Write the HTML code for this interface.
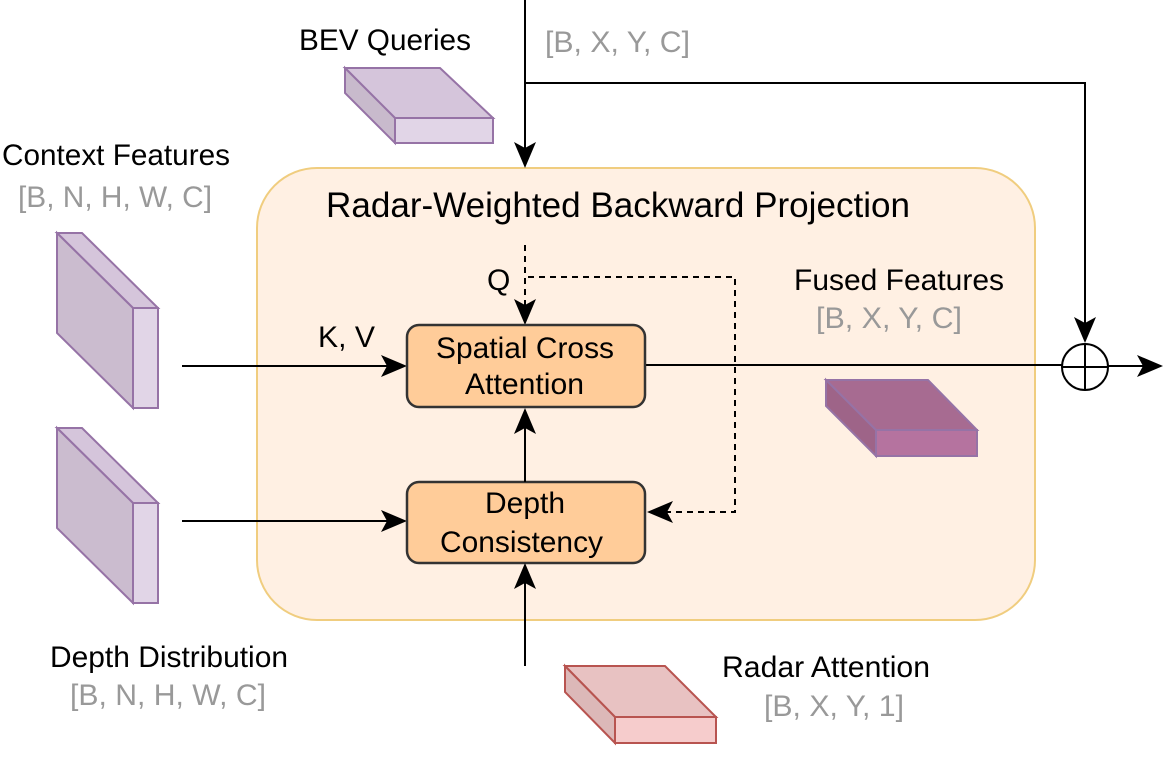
<!DOCTYPE html>
<html><head><meta charset="utf-8"><style>
html,body{margin:0;padding:0;background:#fff;}
svg{display:block;}
text{font-family:"Liberation Sans",Arial,sans-serif;font-size:30px;}
.g{fill:#999;}
</style></head><body>
<svg width="1165" height="762" viewBox="0 0 1165 762" xmlns="http://www.w3.org/2000/svg">
<!-- container -->
<rect x="257" y="168" width="778" height="452" rx="60" fill="#fff0e3" stroke="#f0cd7f" stroke-width="2"/>
<text x="326" y="217" style="font-size:35px" textLength="584" lengthAdjust="spacingAndGlyphs">Radar-Weighted Backward Projection</text>

<!-- top line + branch -->
<line x1="525" y1="0" x2="525" y2="150" stroke="#000" stroke-width="2"/>
<polygon points="525,168 514,142 525,148 536,142" fill="#000"/>
<polyline points="525,83 1085,83 1085,325" fill="none" stroke="#000" stroke-width="2"/>
<polygon points="1085,343 1074,317 1085,323 1096,317" fill="#000"/>
<circle cx="1085" cy="367" r="23" fill="#fff" stroke="#000" stroke-width="2"/>
<line x1="1062" y1="367" x2="1108" y2="367" stroke="#000" stroke-width="2"/>
<line x1="1085" y1="344" x2="1085" y2="390" stroke="#000" stroke-width="2"/>
<line x1="645" y1="365" x2="1062" y2="365" stroke="#000" stroke-width="2"/>
<line x1="1108" y1="366" x2="1150" y2="366" stroke="#000" stroke-width="2"/>
<polygon points="1163,366 1137,355 1143,366 1137,377" fill="#000"/>

<text x="545" y="52" class="g" textLength="145" lengthAdjust="spacingAndGlyphs">[B, X, Y, C]</text>
<text x="299" y="50" textLength="172" lengthAdjust="spacingAndGlyphs">BEV Queries</text>

<!-- BEV box -->
<polygon points="345,68 440,68 493,118 395,118" fill="#d5c5db" stroke="#9673a6" stroke-width="2"/>
<polygon points="345,68 395,118 395,143 345,93" fill="#c8bacc" stroke="#9673a6" stroke-width="2"/>
<rect x="395" y="118" width="98" height="25" fill="#e1d5e7" stroke="#9673a6" stroke-width="2"/>

<!-- Context -->
<text x="2" y="165" textLength="228" lengthAdjust="spacingAndGlyphs">Context Features</text>
<text x="18" y="207" class="g" textLength="194" lengthAdjust="spacingAndGlyphs">[B, N, H, W, C]</text>
<polygon points="57,233 82,233 158,308 133,308" fill="#d5c5db" stroke="#9673a6" stroke-width="2"/>
<polygon points="57,233 133,308 133,408 57,333" fill="#cbbccf" stroke="#9673a6" stroke-width="2"/>
<rect x="133" y="308" width="25" height="100" fill="#e1d5e7" stroke="#9673a6" stroke-width="2"/>

<!-- Depth dist -->
<polygon points="57,428 82,428 158,503 133,503" fill="#d5c5db" stroke="#9673a6" stroke-width="2"/>
<polygon points="57,428 133,503 133,603 57,528" fill="#cbbccf" stroke="#9673a6" stroke-width="2"/>
<rect x="133" y="503" width="25" height="100" fill="#e1d5e7" stroke="#9673a6" stroke-width="2"/>
<text x="50" y="667" textLength="238" lengthAdjust="spacingAndGlyphs">Depth Distribution</text>
<text x="70" y="705" class="g" textLength="196" lengthAdjust="spacingAndGlyphs">[B, N, H, W, C]</text>

<!-- KV arrow -->
<text x="318" y="347" textLength="57" lengthAdjust="spacingAndGlyphs">K, V</text>
<line x1="182" y1="366" x2="390" y2="366" stroke="#000" stroke-width="2"/>
<polygon points="407,366 381,355 387,366 381,377" fill="#000"/>
<!-- depth arrow -->
<line x1="182" y1="521" x2="390" y2="521" stroke="#000" stroke-width="2"/>
<polygon points="407,521 381,510 387,521 381,532" fill="#000"/>

<!-- Q dashed -->
<line x1="525" y1="245" x2="525" y2="306" stroke="#000" stroke-width="2" stroke-dasharray="6,5"/>
<polygon points="525,325 514,299 525,305 536,299" fill="#000"/>
<text x="487" y="290">Q</text>
<polyline points="528,277 735,277 735,512 665,512" fill="none" stroke="#000" stroke-width="2" stroke-dasharray="6,5"/>
<polygon points="647,512 673,501 667,512 673,523" fill="#000"/>

<!-- SCA -->
<rect x="407" y="325" width="238" height="82" rx="12" fill="#ffcc99" stroke="#333" stroke-width="2.5"/>
<text x="436" y="358" textLength="178" lengthAdjust="spacingAndGlyphs">Spatial Cross</text>
<text x="465" y="394" textLength="119" lengthAdjust="spacingAndGlyphs">Attention</text>
<!-- DC -->
<rect x="407" y="482" width="238" height="81" rx="12" fill="#ffcc99" stroke="#333" stroke-width="2.5"/>
<text x="485" y="513" textLength="80" lengthAdjust="spacingAndGlyphs">Depth</text>
<text x="440" y="552" textLength="163" lengthAdjust="spacingAndGlyphs">Consistency</text>
<!-- DC->SCA -->
<line x1="525" y1="482" x2="525" y2="425" stroke="#000" stroke-width="2"/>
<polygon points="525,408 514,434 525,428 536,434" fill="#000"/>
<!-- radar up -->
<line x1="525" y1="666" x2="525" y2="580" stroke="#000" stroke-width="2"/>
<polygon points="525,563 514,589 525,583 536,589" fill="#000"/>

<!-- Fused -->
<text x="794" y="290" textLength="210" lengthAdjust="spacingAndGlyphs">Fused Features</text>
<text x="816" y="328" class="g" textLength="146" lengthAdjust="spacingAndGlyphs">[B, X, Y, C]</text>
<polygon points="826,380 928,380 977,430 876,430" fill="#a76b91" stroke="#9673a6" stroke-width="2"/>
<polygon points="826,380 876,430 876,456 826,406" fill="#9e6488" stroke="#9673a6" stroke-width="2"/>
<rect x="876" y="430" width="101" height="26" fill="#b5739f" stroke="#9673a6" stroke-width="2"/>

<!-- Radar -->
<polygon points="565,666 665,666 716,717 615,717" fill="#e8c2c2" stroke="#b85450" stroke-width="2"/>
<polygon points="565,666 615,717 615,743 565,692" fill="#dcb8b8" stroke="#b85450" stroke-width="2"/>
<rect x="615" y="717" width="101" height="26" fill="#f6cccc" stroke="#b85450" stroke-width="2"/>
<text x="722" y="677" textLength="208" lengthAdjust="spacingAndGlyphs">Radar Attention</text>
<text x="764" y="716" class="g" textLength="140" lengthAdjust="spacingAndGlyphs">[B, X, Y, 1]</text>
</svg>
</body></html>
